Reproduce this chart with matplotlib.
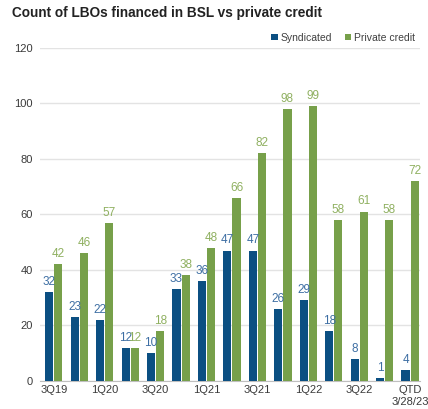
import matplotlib

matplotlib.use("Agg")
import matplotlib.pyplot as plt
import numpy as np

plt.rcParams["font.family"] = ["Liberation Sans", "DejaVu Sans"]

quarters = ["3Q19", "4Q19", "1Q20", "2Q20", "3Q20", "4Q20", "1Q21", "2Q21",
            "3Q21", "4Q21", "1Q22", "2Q22", "3Q22", "4Q22", "QTD\n3/28/23"]
syndicated = [32, 23, 22, 12, 10, 33, 36, 47, 47, 26, 29, 18, 8, 1, 4]
private_credit = [42, 46, 57, 12, 18, 38, 48, 66, 82, 98, 99, 58, 61, 58, 72]
y_ticks = [0, 20, 40, 60, 80, 100, 120]

BLUE, GREEN = "#0b4f82", "#77a04a"
BLUE_TXT, GREEN_TXT = "#3d6ea3", "#8fb060"

fig = plt.figure(figsize=(4.28, 4.09), dpi=100)
ax = fig.add_axes([0.093, 0.0685, 0.889, 0.8145])

x = np.arange(len(quarters))
w, off = 0.32, 0.18
b1 = ax.bar(x - off, syndicated, w, color=BLUE, label="Syndicated", zorder=3)
b2 = ax.bar(x + off, private_credit, w, color=GREEN, label="Private credit", zorder=3)

for bars, vals, c in [(b1, syndicated, BLUE_TXT), (b2, private_credit, GREEN_TXT)]:
    for bar, v in zip(bars, vals):
        ax.text(bar.get_x() + bar.get_width() / 2, v + 1.5, str(v),
                ha="center", va="bottom", fontsize=8.5, color=c, zorder=4)

ax.set_xlim(-0.55, 14.4)
ax.set_ylim(0, 120)
ax.set_yticks(y_ticks)
ax.set_xticks(x[::2])
ax.set_xticklabels(quarters[::2])
ax.tick_params(axis="both", length=0, labelsize=8, labelcolor="#3a3a3a")
ax.tick_params(axis="y", pad=5)
ax.tick_params(axis="x", pad=3)
ax.yaxis.grid(True, color="#e3e3e3", linewidth=1, zorder=0)
for side in ["top", "right", "left"]:
    ax.spines[side].set_visible(False)
ax.spines["bottom"].set_color("#bfbfbf")

fig.text(0.028, 0.985, "Count of LBOs financed in BSL vs private credit",
         fontsize=9.8, fontweight="bold", color="#222222", va="top")
ax.legend(loc="lower right", bbox_to_anchor=(1.0, 1.0), ncol=2, frameon=False,
          fontsize=7.5, handlelength=0.6, handleheight=0.6, handletextpad=0.3,
          columnspacing=1.2, borderaxespad=0.1, labelcolor="#404040")

fig.savefig("out.png", dpi=100)
